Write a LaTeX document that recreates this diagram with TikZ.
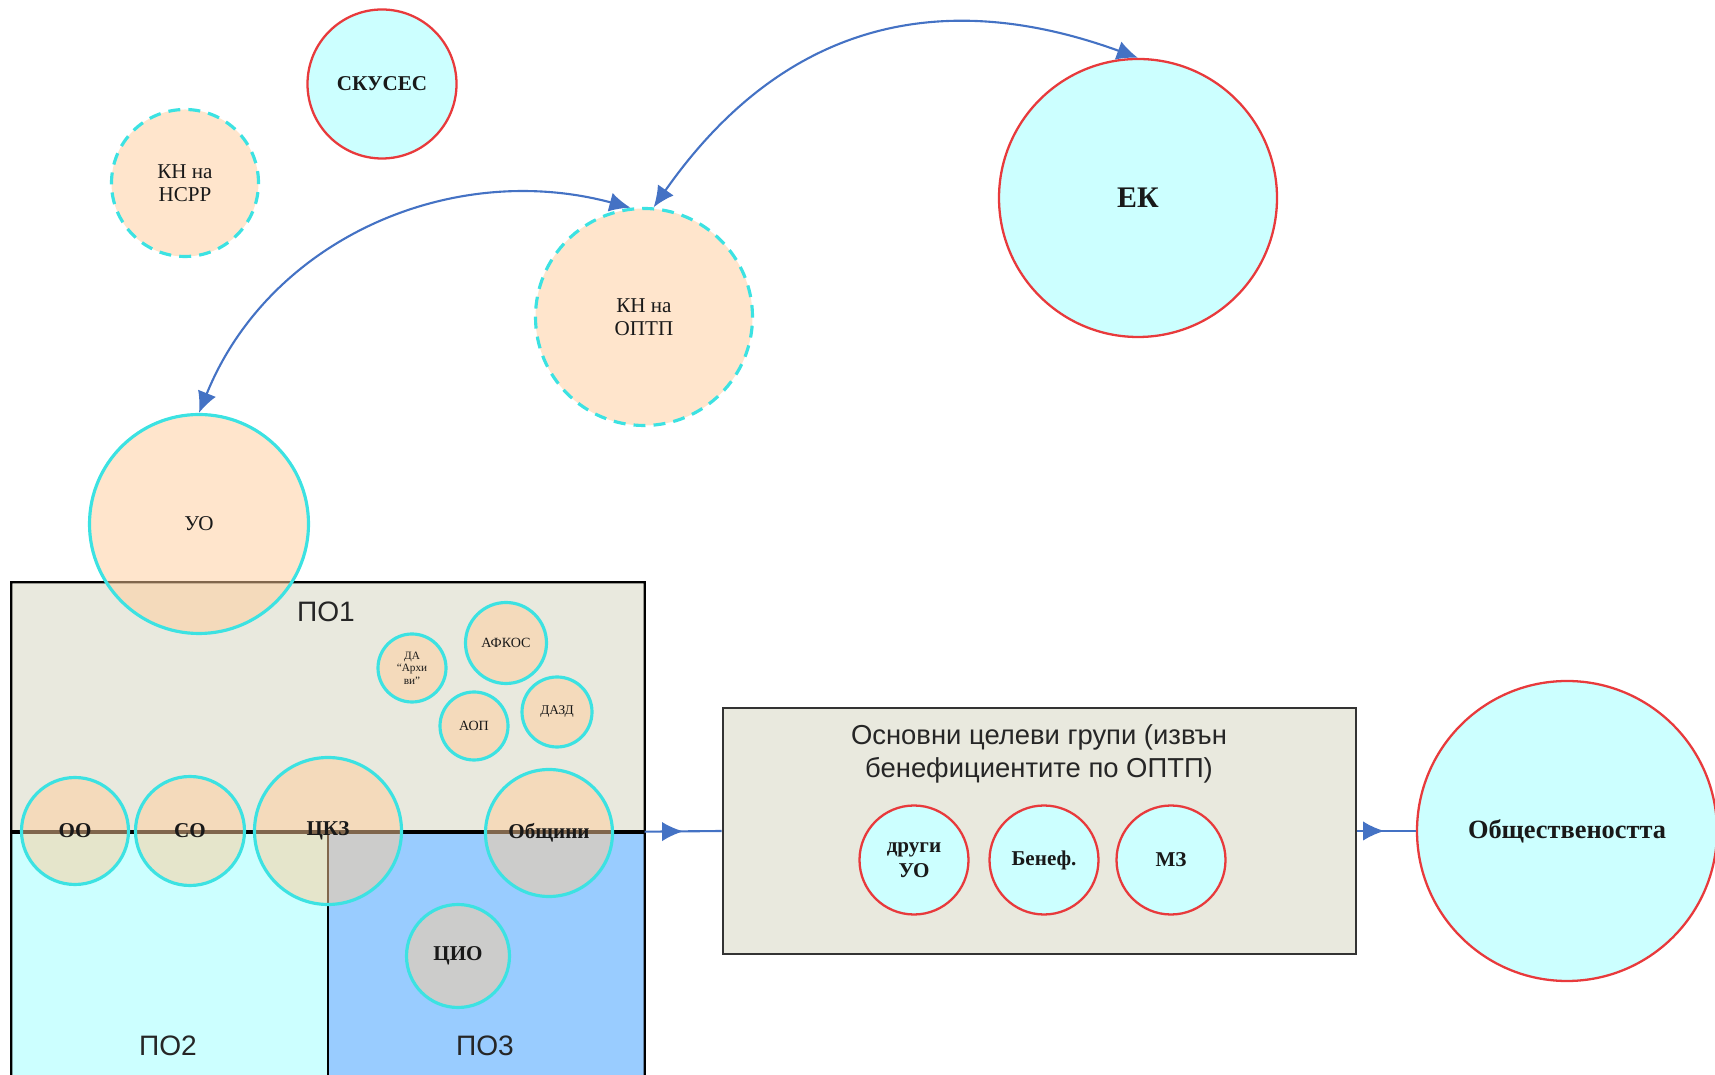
\documentclass[tikz,border=0pt]{standalone}
\usepackage{fontspec}
\setmainfont{Liberation Serif}
\newfontfamily\arialfont{Liberation Sans}
\usepackage{tikz}
\usetikzlibrary{arrows.meta,shapes,positioning,decorations.markings}
\definecolor{peach}{RGB}{255,204,153}
\definecolor{aqua}{RGB}{60,226,226}
\definecolor{lightaqua}{RGB}{204,255,255}
\definecolor{skyblue}{RGB}{153,204,255}
\definecolor{khaki}{RGB}{233,233,222}
\definecolor{redline}{RGB}{232,58,60}
\definecolor{arrowblue}{RGB}{68,114,196}

\begin{document}
\begin{tikzpicture}[
  ag/.style={circle,draw=aqua,line width=.9pt,fill=peach,fill opacity=.5,text opacity=1,inner sep=0pt,align=center,text=black!90,font=\fontsize{6}{6.6}\selectfont},
  kn/.style={ag,dash pattern=on 3.4pt off 2.3pt},
  ext/.style={circle,draw=redline,line width=.65pt,fill=lightaqua,inner sep=0pt,align=center,text=black!90,font=\bfseries\fontsize{6}{7}\selectfont},
  region/.style={rectangle,inner sep=0pt},
  polabel/.style={text=black!85,font=\arialfont\fontsize{8}{9}\selectfont},
  link/.style={arrowblue,line width=.6pt,>={Latex[length=6pt,width=5.5pt]}},
  midtip/.style={postaction={decorate},decoration={markings,mark=at position #1 with {\arrow{>}}}}]
\useasboundingbox (0,0) rectangle (17.15,10.74);
%boxes of the priority axes
\node[region,fill=khaki,minimum width=6.32cm,minimum height=2.48cm] (po1) at (3.28,3.67) {};
\node[region,fill=lightaqua,minimum width=3.15cm,minimum height=2.63cm] (po2) at (1.695,1.115) {};
\node[region,fill=skyblue,minimum width=3.17cm,minimum height=2.63cm] (po3) at (4.855,1.115) {};
\draw[line width=.6pt] (po2.south west) -- (po1.north west) -- (po1.north east) -- (po3.south east);
\draw[line width=1.1pt] (po1.south west) -- (po1.south east); \draw[line width=.6pt] (po2.south east) -- (po2.north east);
\node[polabel] (lab1) at (3.26,4.62) {ПО1}; \node[polabel] (lab2) at (1.68,0.28) {ПО2}; \node[polabel] (lab3) at (4.85,0.28) {ПО3};
%top circles
\node[ext,minimum size=1.49cm] (skuses) at (3.82,9.90) {СКУСЕС};
\node[kn,minimum size=1.47cm] (nsrr) at (1.85,8.91) {КН на\\НСРР};
\node[kn,minimum size=2.17cm] (optp) at (6.44,7.57) {КН на\\ОПТП};
\node[ext,minimum size=2.78cm,font=\bfseries\fontsize{8.5}{9}\selectfont] (ek) at (11.38,8.76) {ЕК};
\node[ag,minimum size=2.19cm] (uo) at (1.99,5.50) {УО};
%small ones in PO1
\node[ag,minimum size=.68cm,font=\fontsize{3.2}{3.6}\selectfont] (arhivi) at (4.12,4.06) {ДА\\“Архи\\ви”};
\node[ag,minimum size=.81cm,font=\fontsize{4}{4.5}\selectfont] (afkos) at (5.06,4.31) {АФКОС};
\node[ag,minimum size=.68cm,font=\fontsize{4}{4.5}\selectfont] (aop) at (4.74,3.48) {АОП};
\node[ag,minimum size=.70cm,font=\fontsize{3.8}{4.5}\selectfont] (dazd) at (5.57,3.62) {ДАЗД};
%row on the dividing line
\node[ag,minimum size=1.07cm,font=\bfseries\fontsize{6}{7}\selectfont] (oo) at (0.75,2.43) {ОО};
\node[ag,minimum size=1.09cm,font=\bfseries\fontsize{6}{7}\selectfont] (so) at (1.90,2.43) {СО};
\node[ag,minimum size=1.47cm,font=\bfseries\fontsize{6}{7}\selectfont] (ckz) at (3.28,2.43) {ЦКЗ};
\node[ag,minimum size=1.27cm,font=\bfseries\fontsize{6}{7}\selectfont] (obshtini) at (5.49,2.41) {Общини};
\node[ag,minimum size=1.03cm,font=\bfseries\fontsize{6}{7}\selectfont] (cio) at (4.58,1.18) {ЦИО};
%target groups
\node[region,draw=black!80,line width=.75pt,fill=khaki,minimum width=6.33cm,minimum height=2.46cm] (groups) at (10.395,2.43) {};
\node[polabel,align=center,font=\arialfont\fontsize{7.8}{9.4}\selectfont] (groupstitle) at (10.39,3.20) {Основни целеви групи (извън\\бенефициентите по ОПТП)};
\node[ext,minimum size=1.09cm] (drugi) at (9.14,2.14) {други\\УО};
\node[ext,minimum size=1.09cm] (benef) at (10.44,2.14) {Бенеф.};
\node[ext,minimum size=1.09cm] (mz) at (11.71,2.14) {МЗ};
\node[ext,minimum size=3.0cm,font=\bfseries\fontsize{7.5}{8}\selectfont] (public) at (15.67,2.43) {Обществеността};
%arrows
\draw[link,<->] (uo.north) to[out=68,in=165] (optp.97);
\draw[link,<->] (optp.85) to[out=55,in=160,looseness=1.1] (ek.north);
\draw[link,midtip=.5] (po1.south east) -- (groups.west);
\draw[link,midtip=.46] (groups.east) -- (public.west);
\end{tikzpicture}
\end{document}
